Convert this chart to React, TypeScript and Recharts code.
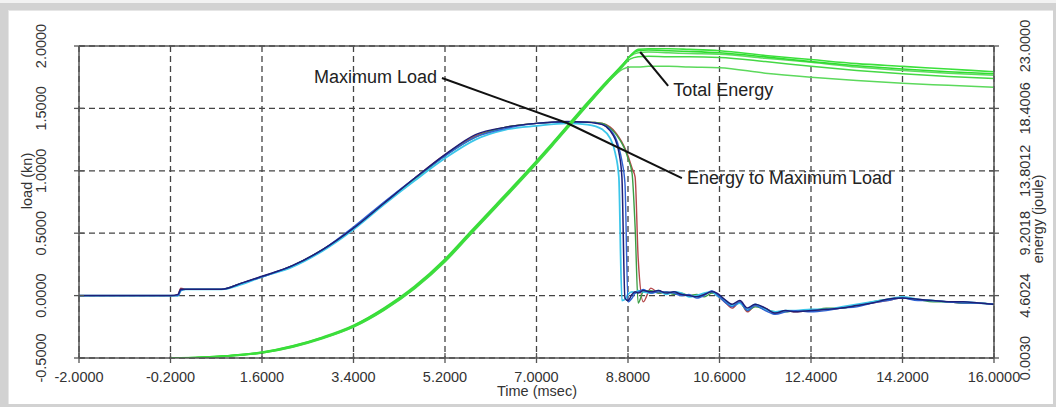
import React from "react";
import {
  CartesianGrid,
  Line,
  LineChart,
  ReferenceDot,
  ReferenceLine,
  XAxis,
  YAxis,
} from "recharts";

// time axis (msec)
const xTicks = [-2, -0.2, 1.6, 3.4, 5.2, 7.0, 8.8, 10.6, 12.4, 14.2, 16.0];
const loadTicks = [-0.5, 0, 0.5, 1.0, 1.5, 2.0];
const energyTicks = [0.003, 4.6024, 9.2018, 13.8012, 18.4006, 23.0];

// load curves (kN), one value per time point
const loadTime = [
  -2, -0.2, -0.05, 0.0, 0.1, 0.8, 1.2, 1.6, 2.2, 2.8, 3.4, 4.0, 4.6, 5.2, 5.8,
  6.4, 7.0, 7.6, 8.0, 8.3, 8.45, 8.55, 8.62, 8.68, 8.74, 8.8, 8.88, 8.94, 9.0,
  9.1, 9.25, 9.4, 9.55, 9.7, 9.85, 10.0, 10.15, 10.3, 10.45, 10.55, 10.7, 10.85,
  11.0, 11.15, 11.3, 11.5, 11.7, 11.9, 12.1, 12.4, 12.7, 13.0, 13.3, 13.6, 13.9,
  14.2, 14.5, 14.8, 15.1, 15.4, 15.7, 16.0,
];
const loadNavy = [
  0.0, 0.0, 0.01, 0.05, 0.05, 0.05, 0.1, 0.155, 0.24, 0.37, 0.54, 0.74, 0.94,
  1.13, 1.29, 1.35, 1.38, 1.395, 1.39, 1.37, 1.32, 1.25, 1.15, 0.95, -0.02,
  -0.04, 0.01, 0.03, 0.02, 0.04, 0.03, 0.04, 0.02, 0.03, 0.01, 0.0, -0.01,
  0.01, 0.03, 0.02, -0.03, -0.07, -0.04, -0.1, -0.07, -0.1, -0.14, -0.12,
  -0.13, -0.12, -0.11, -0.1, -0.08, -0.06, -0.03, -0.02, -0.03, -0.04, -0.05,
  -0.05, -0.06, -0.07,
];
const loadBlue = [
  0.0, 0.0, 0.0, 0.04, 0.05, 0.05, 0.1, 0.15, 0.24, 0.37, 0.55, 0.75, 0.94,
  1.12, 1.27, 1.34, 1.38, 1.39, 1.39, 1.37, 1.33, 1.27, 1.19, 1.08, 0.9, -0.05,
  -0.02, 0.02, 0.03, 0.05, 0.02, 0.03, 0.03, 0.02, 0.0, 0.01, -0.02, 0.0, 0.04,
  0.01, -0.05, -0.09, -0.05, -0.12, -0.08, -0.12, -0.15, -0.13, -0.12, -0.13,
  -0.12, -0.1, -0.09, -0.06, -0.04, -0.02, -0.04, -0.04, -0.05, -0.06, -0.06,
  -0.07,
];
const loadCyan = [
  0.0, 0.0, 0.0, 0.04, 0.05, 0.05, 0.09, 0.15, 0.23, 0.36, 0.53, 0.73, 0.92,
  1.1, 1.25, 1.33, 1.36, 1.38, 1.37, 1.33, 1.26, 1.14, 0.95, -0.04, -0.03,
  0.01, 0.03, 0.02, 0.04, 0.03, 0.02, 0.04, 0.01, 0.03, 0.02, -0.01, 0.0, 0.02,
  0.03, 0.0, -0.04, -0.08, -0.06, -0.11, -0.07, -0.11, -0.13, -0.12, -0.12,
  -0.11, -0.11, -0.09, -0.07, -0.05, -0.03, -0.01, -0.03, -0.04, -0.05, -0.05,
  -0.06, -0.07,
];
const loadGreen = [
  0.0, 0.0, 0.0, 0.04, 0.05, 0.05, 0.1, 0.15, 0.24, 0.37, 0.54, 0.74, 0.93,
  1.12, 1.27, 1.35, 1.38, 1.39, 1.39, 1.38, 1.34, 1.3, 1.26, 1.22, 1.17, 1.1,
  0.98, 0.55, -0.06, 0.03, 0.04, 0.02, 0.03, 0.01, 0.02, 0.0, 0.01, -0.01,
  0.02, 0.01, -0.04, -0.08, -0.06, -0.12, -0.09, -0.11, -0.13, -0.13, -0.12,
  -0.12, -0.1, -0.1, -0.08, -0.05, -0.03, -0.02, -0.03, -0.05, -0.05, -0.06,
  -0.06, -0.07,
];
const loadRed = [
  0.0, 0.0, 0.01, 0.06, 0.05, 0.05, 0.1, 0.15, 0.24, 0.37, 0.54, 0.74, 0.94,
  1.13, 1.28, 1.35, 1.38, 1.39, 1.39, 1.38, 1.35, 1.31, 1.27, 1.23, 1.18, 1.12,
  1.02, 0.95, 0.3, -0.05, 0.06, 0.02, 0.03, 0.02, 0.01, 0.0, 0.0, 0.01, 0.03,
  0.0, -0.05, -0.1, -0.05, -0.13, -0.08, -0.1, -0.14, -0.12, -0.13, -0.12,
  -0.11, -0.1, -0.08, -0.06, -0.04, -0.02, -0.03, -0.04, -0.05, -0.06, -0.06,
  -0.07,
];

// energy curves (joule)
const energyTime = [
  -0.2, 0.4, 0.9, 1.6, 2.2, 2.8, 3.4, 4.0, 4.6, 5.2, 5.7, 6.2, 6.7, 7.3, 7.9,
  8.4, 8.7, 8.85, 9.0, 9.2, 9.6, 10.0, 10.6, 11.5, 12.4, 13.3, 14.2, 15.1, 16.0,
];
const energy1 = [
  0.0, 0.05, 0.15, 0.4, 0.85, 1.5, 2.35, 3.6, 5.2, 7.2, 9.2, 11.2, 13.2, 15.7,
  18.3, 20.4, 21.6, 22.3, 22.75, 22.8, 22.8, 22.75, 22.65, 22.3, 22.0, 21.7,
  21.5, 21.3, 21.1,
];
const energy2 = [
  0.0, 0.06, 0.17, 0.44, 0.9, 1.56, 2.42, 3.7, 5.3, 7.32, 9.32, 11.32, 13.32,
  15.82, 18.42, 20.5, 21.65, 22.25, 22.5, 22.55, 22.5, 22.45, 22.4, 22.1, 21.8,
  21.45, 21.2, 21.0, 20.85,
];
const energy3 = [
  0.0, 0.04, 0.13, 0.37, 0.8, 1.44, 2.28, 3.52, 5.1, 7.08, 9.08, 11.08, 13.08,
  15.58, 18.18, 20.3, 21.5, 22.05, 22.2, 22.25, 22.2, 22.2, 22.15, 21.85,
  21.5, 21.2, 20.95, 20.75, 20.6,
];
const energy4 = [
  0.0, 0.05, 0.16, 0.42, 0.88, 1.53, 2.39, 3.65, 5.25, 7.26, 9.26, 11.26,
  13.26, 15.76, 18.36, 20.45, 21.65, 22.3, 22.65, 22.7, 22.65, 22.6, 22.5,
  22.2, 21.85, 21.55, 21.3, 21.1, 20.95,
];
const energy5 = [
  0.0, 0.04, 0.14, 0.38, 0.82, 1.47, 2.31, 3.56, 5.15, 7.14, 9.14, 11.14,
  13.14, 15.64, 18.2, 20.3, 21.3, 21.45, 21.45, 21.5, 21.5, 21.45, 21.4, 21.0,
  20.7, 20.45, 20.25, 20.1, 19.95,
];

const loadData = loadTime.map((t, i) => ({
  t,
  navy: loadNavy[i],
  blue: loadBlue[i],
  cyan: loadCyan[i],
  green: loadGreen[i],
  red: loadRed[i],
}));

const energyData = energyTime.map((t, i) => ({
  t,
  e1: energy1[i],
  e2: energy2[i],
  e3: energy3[i],
  e4: energy4[i],
  e5: energy5[i],
}));

const PLOT_LEFT = 79;
const PLOT_RIGHT = 994;
const PLOT_BOTTOM = 358;
const FONT = "'Liberation Sans', Arial, sans-serif";
const AXIS = "#555";

const LeftTick = ({ y, payload }: any) => (
  <g>
    <line x1={PLOT_LEFT - 5} x2={PLOT_LEFT + 5} y1={y} y2={y} stroke={AXIS} strokeWidth={1.3} />
    <text
      x={41}
      y={y}
      transform={`rotate(-90 41 ${y})`}
      textAnchor="middle"
      dominantBaseline="central"
      fontSize={14.5}
      fontFamily={FONT}
      fill="#333"
    >
      {Number(payload.value).toFixed(4)}
    </text>
  </g>
);

const RightTick = ({ y, payload }: any) => (
  <g>
    <line x1={PLOT_RIGHT - 5} x2={PLOT_RIGHT + 5} y1={y} y2={y} stroke={AXIS} strokeWidth={1.3} />
    <text
      x={1025}
      y={y}
      transform={`rotate(-90 1025 ${y})`}
      textAnchor="middle"
      dominantBaseline="central"
      fontSize={14.5}
      fontFamily={FONT}
      fill="#333"
    >
      {Number(payload.value).toFixed(4)}
    </text>
  </g>
);

const BottomTick = ({ x, payload }: any) => (
  <g>
    <line x1={x} x2={x} y1={PLOT_BOTTOM - 5} y2={PLOT_BOTTOM + 5} stroke={AXIS} strokeWidth={1.3} />
    <text
      x={x}
      y={377}
      textAnchor="middle"
      dominantBaseline="central"
      fontSize={14.5}
      fontFamily={FONT}
      fill="#333"
    >
      {Number(payload.value).toFixed(4)}
    </text>
  </g>
);

const textLabel = (value: string, x: number, y: number, angle = 0) => () =>
  (
    <text
      x={x}
      y={y}
      transform={angle ? `rotate(${angle} ${x} ${y})` : undefined}
      textAnchor="middle"
      dominantBaseline="central"
      fontSize={14.5}
      fontFamily={FONT}
      fill="#333"
    >
      {value}
    </text>
  );

const noteStyle = { fill: "#222", fontSize: 18, fontFamily: FONT };

export default function App() {
  return (
    <div
      style={{
        position: "absolute",
        left: 0,
        top: 0,
        width: 1056,
        height: 407,
        background: "#d2d2d2",
        overflow: "hidden",
      }}
    >
      <div style={{ position: "absolute", left: 0, top: 0, width: 1056, height: 3, background: "#f2f2f2" }} />
      <div
        style={{
          position: "absolute",
          left: 8,
          top: 10,
          width: 1044,
          height: 393,
          background: "#fff",
          borderTop: "1px solid #e6e6e6",
          borderLeft: "1px solid #e6e6e6",
        }}
      />
      <div style={{ position: "absolute", left: 0, top: 0 }}>
        <LineChart
          width={1056}
          height={407}
          margin={{ top: 46, right: 0, bottom: 0, left: 0 }}
        >
          <CartesianGrid
            yAxisId="load"
            stroke="#444"
            strokeWidth={1.3}
            strokeDasharray="6 4"
          />
          <XAxis
            dataKey="t"
            type="number"
            domain={[-2, 16]}
            ticks={xTicks}
            allowDataOverflow
            height={49}
            stroke={AXIS}
            strokeWidth={1.5}
            tickLine={false}
            tick={<BottomTick />}
            interval={0}
            label={{ content: textLabel("Time (msec)", 537, 391) }}
          />
          <YAxis
            yAxisId="load"
            type="number"
            domain={[-0.5, 2]}
            ticks={loadTicks}
            allowDataOverflow
            width={79}
            stroke={AXIS}
            strokeWidth={1.5}
            tickLine={false}
            tick={<LeftTick />}
            interval={0}
            label={{ content: textLabel("load (kn)", 27, 181, -90) }}
          />
          <YAxis
            yAxisId="energy"
            orientation="right"
            type="number"
            domain={[0.003, 23]}
            ticks={energyTicks}
            allowDataOverflow
            width={62}
            stroke={AXIS}
            strokeWidth={1.5}
            tickLine={false}
            tick={<RightTick />}
            interval={0}
            label={{ content: textLabel("energy (joule)", 1038, 219, -90) }}
          />
          <ReferenceLine yAxisId="load" y={2} stroke={AXIS} strokeWidth={1.5} />

          <Line yAxisId="load" type="monotone" data={loadData} dataKey="red" stroke="#b4474a" strokeWidth={1.4} dot={false} isAnimationActive={false} />
          <Line yAxisId="load" type="monotone" data={loadData} dataKey="green" stroke="#3c9e45" strokeWidth={1.4} dot={false} isAnimationActive={false} />
          <Line yAxisId="load" type="monotone" data={loadData} dataKey="cyan" stroke="#3cc6ea" strokeWidth={1.8} dot={false} isAnimationActive={false} />
          <Line yAxisId="load" type="monotone" data={loadData} dataKey="blue" stroke="#2f62d2" strokeWidth={1.4} dot={false} isAnimationActive={false} />
          <Line yAxisId="load" type="monotone" data={loadData} dataKey="navy" stroke="#1d1f78" strokeWidth={1.5} dot={false} isAnimationActive={false} />

          <Line yAxisId="energy" type="monotone" data={energyData} dataKey="e5" stroke="#5cd95c" strokeWidth={1.5} dot={false} isAnimationActive={false} />
          <Line yAxisId="energy" type="monotone" data={energyData} dataKey="e3" stroke="#45d845" strokeWidth={1.5} dot={false} isAnimationActive={false} />
          <Line yAxisId="energy" type="monotone" data={energyData} dataKey="e2" stroke="#5ddd5d" strokeWidth={1.5} dot={false} isAnimationActive={false} />
          <Line yAxisId="energy" type="monotone" data={energyData} dataKey="e4" stroke="#30dc30" strokeWidth={1.6} dot={false} isAnimationActive={false} />
          <Line yAxisId="energy" type="monotone" data={energyData} dataKey="e1" stroke="#3be03b" strokeWidth={1.6} dot={false} isAnimationActive={false} />

          <ReferenceLine
            yAxisId="load"
            segment={[{ x: 5.14, y: 1.744 }, { x: 7.6, y: 1.383 }]}
            stroke="#111"
            strokeWidth={2}
            ifOverflow="visible"
          />
          <ReferenceLine
            yAxisId="load"
            segment={[{ x: 7.6, y: 1.383 }, { x: 9.86, y: 0.942 }]}
            stroke="#111"
            strokeWidth={2}
            ifOverflow="visible"
          />
          <ReferenceLine
            yAxisId="load"
            segment={[{ x: 9.04, y: 1.952 }, { x: 9.59, y: 1.68 }]}
            stroke="#111"
            strokeWidth={2}
            ifOverflow="visible"
          />
          <ReferenceDot
            yAxisId="load"
            x={5.14}
            y={1.755}
            r={0}
            fill="none"
            stroke="none"
            label={{ value: "Maximum Load", position: "left", offset: 5, ...noteStyle }}
          />
          <ReferenceDot
            yAxisId="load"
            x={9.86}
            y={0.942}
            r={0}
            fill="none"
            stroke="none"
            label={{ value: "Energy to Maximum Load", position: "right", offset: 5, ...noteStyle }}
          />
          <ReferenceDot
            yAxisId="load"
            x={9.59}
            y={1.647}
            r={0}
            fill="none"
            stroke="none"
            label={{ value: "Total Energy", position: "right", offset: 5, ...noteStyle }}
          />
        </LineChart>
      </div>
    </div>
  );
}
